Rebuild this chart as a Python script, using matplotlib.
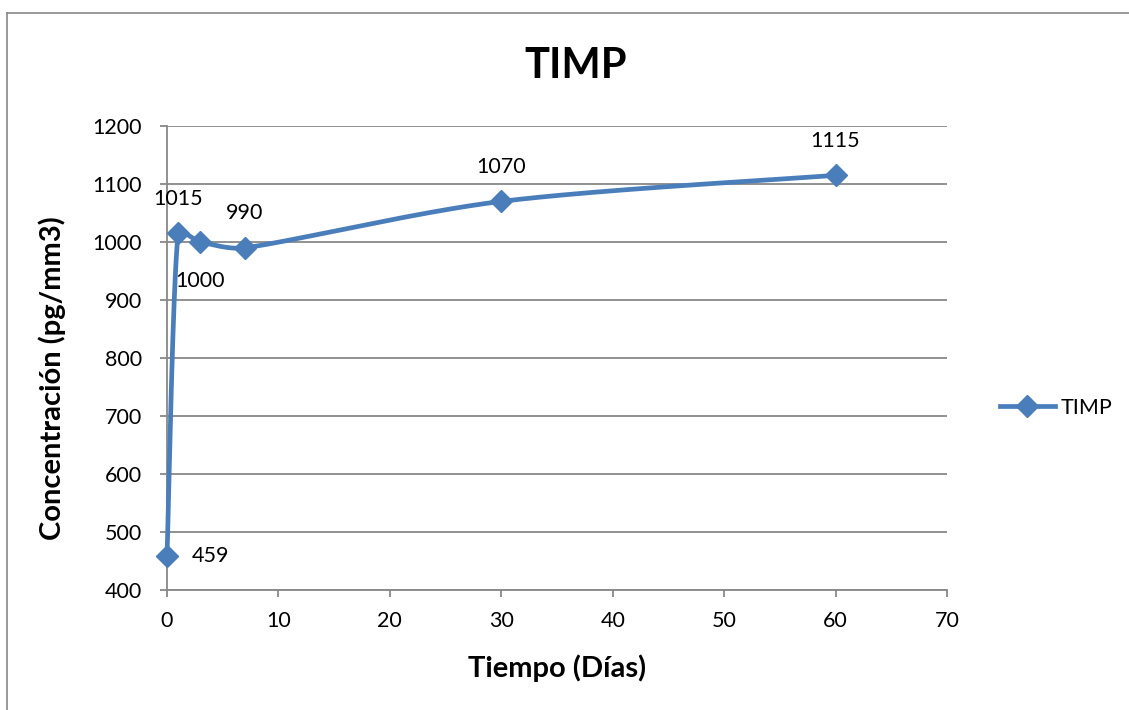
import numpy as np
import matplotlib
matplotlib.use("Agg")
import matplotlib.pyplot as plt
from matplotlib.lines import Line2D

plt.rcParams['font.family'] = ['Lato', 'DejaVu Sans']

dias = [0, 1, 3, 7, 30, 60]
timp = [459, 1015, 1000, 990, 1070, 1115]
label_pos = ["right", "above", "below", "above", "above", "above"]

color = "#4A7EBB"
grid_color = "#888888"
fs = 15.5

W, H = 1129, 710
fig = plt.figure(figsize=(W / 100, H / 100), dpi=100)
ax = fig.add_axes([167 / W, 1 - 590 / H, (947 - 167) / W, (590 - 126) / H])
ax.set_xlim(0, 70)
ax.set_ylim(400, 1200)


def smooth_curve(ax, xs, ys, n=50):
    # catmull-rom style bezier in pixel space, tangents capped by segment length
    pts = ax.transData.transform(np.column_stack([xs, ys]))
    out = []
    for i in range(len(pts) - 1):
        p0 = pts[max(i - 1, 0)]
        p1 = pts[i]
        p2 = pts[i + 1]
        p3 = pts[min(i + 2, len(pts) - 1)]
        seglen = np.linalg.norm(p2 - p1)
        v1 = (p2 - p0) / 6
        v2 = (p3 - p1) / 6
        if np.linalg.norm(v1) > seglen / 3:
            v1 = v1 / np.linalg.norm(v1) * seglen / 3
        if np.linalg.norm(v2) > seglen / 3:
            v2 = v2 / np.linalg.norm(v2) * seglen / 3
        c1 = p1 + v1
        c2 = p2 - v2
        t = np.linspace(0, 1, n)[:, None]
        seg = ((1 - t) ** 3) * p1 + 3 * ((1 - t) ** 2) * t * c1 + 3 * (1 - t) * t ** 2 * c2 + t ** 3 * p2
        out.append(seg if i == 0 else seg[1:])
    out = np.vstack(out)
    return ax.transData.inverted().transform(out)


curve = smooth_curve(ax, dias, timp)
ax.plot(curve[:, 0], curve[:, 1], color=color, lw=3.4, solid_capstyle="round", zorder=3, clip_on=False)
ax.plot(dias, timp, linestyle="none", marker="D", markersize=11, color=color, zorder=4, clip_on=False)

for x, y, pos in zip(dias, timp, label_pos):
    if pos == "right":
        ax.annotate(str(y), (x, y), xytext=(18, 0), textcoords="offset points",
                    ha="left", va="center", fontsize=fs)
    elif pos == "above":
        ax.annotate(str(y), (x, y), xytext=(0, 25), textcoords="offset points",
                    ha="center", va="center", fontsize=fs)
    else:
        ax.annotate(str(y), (x, y), xytext=(0, -28), textcoords="offset points",
                    ha="center", va="center", fontsize=fs)

ax.set_xticks(range(0, 71, 10))
ax.set_yticks(range(400, 1201, 100))
ax.yaxis.grid(True, color=grid_color, lw=1.3)
ax.set_axisbelow(True)
for s in ["top", "right"]:
    ax.spines[s].set_visible(False)
for s in ["left", "bottom"]:
    ax.spines[s].set_color(grid_color)
    ax.spines[s].set_linewidth(1.3)
ax.tick_params(axis="both", direction="out", length=5, width=1.3, color=grid_color,
               labelsize=fs, labelcolor="black")
ax.tick_params(axis="x", pad=10)
ax.tick_params(axis="y", pad=13)

fig.text(576 / W, 1 - 66 / H, "TIMP", fontsize=30, fontweight="bold", ha="center", va="center")
fig.text(557 / W, 1 - 668 / H, "Tiempo (Días)", fontsize=21, fontweight="bold", ha="center", va="center")
fig.text(52 / W, 1 - 378 / H, "Concentración (pg/mm3)", fontsize=21, fontweight="bold",
         ha="center", va="center", rotation=90)

handle = Line2D([], [], color=color, lw=3.4, marker="D", markersize=11)
fig.legend([handle], ["TIMP"], loc="center left", bbox_to_anchor=(1000 / W, 1 - 408 / H),
           frameon=False, fontsize=fs, handlelength=2.55, handletextpad=0.25,
           borderaxespad=0, borderpad=0)

# outer chart frame
fig.add_artist(Line2D([7 / W, 1], [1 - 13 / H, 1 - 13 / H], transform=fig.transFigure,
                      color="#888888", lw=1.2))
fig.add_artist(Line2D([7 / W, 7 / W], [0, 1 - 13 / H], transform=fig.transFigure,
                      color="#888888", lw=1.2))

fig.savefig("out.png", dpi=100)
